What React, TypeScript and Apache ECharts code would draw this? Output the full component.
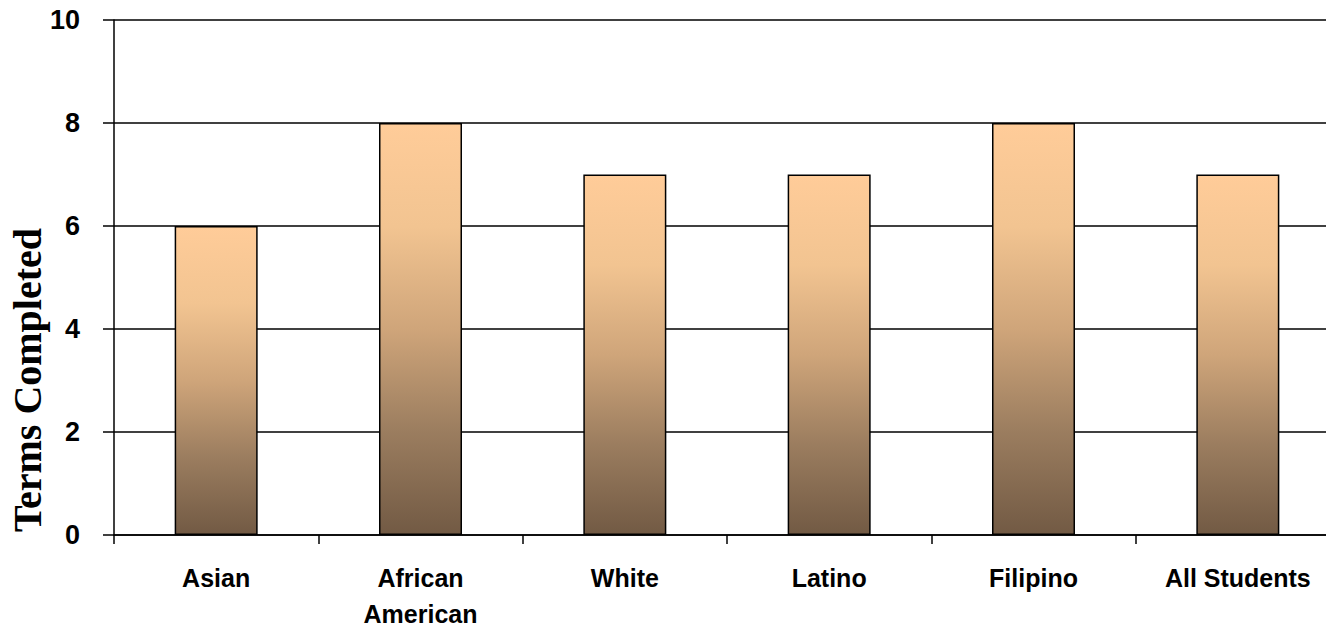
import React, { useEffect, useRef } from "react";
import * as echarts from "echarts";

const categories = ["Asian", "African\nAmerican", "White", "Latino", "Filipino", "All Students"];
const termsCompleted = [6, 8, 7, 7, 8, 7];
const yTicks = [0, 2, 4, 6, 8, 10];
const yTitle = "Terms Completed";

const sans = "'Liberation Sans Narrow', 'Arial Narrow', 'Liberation Sans', Arial, sans-serif";

export default function App() {
  const ref = useRef<HTMLDivElement>(null);
  useEffect(() => {
    if (!ref.current) return;
    const chart = echarts.init(ref.current, null, { renderer: "svg" });
    const barColor = new echarts.graphic.LinearGradient(0, 0, 0, 1, [
      { offset: 0, color: "#FFCC99" },
      { offset: 0.25, color: "#F2C491" },
      { offset: 0.5, color: "#CFA57A" },
      { offset: 0.75, color: "#9B7D5F" },
      { offset: 1, color: "#725A44" },
    ]);
    chart.setOption({
      animation: false,
      backgroundColor: "#ffffff",
      grid: { left: 114, top: 20, right: 0, bottom: 93, containLabel: false },
      xAxis: {
        type: "category",
        data: categories,
        boundaryGap: true,
        axisLine: { show: true, lineStyle: { color: "#000", width: 1.5 } },
        axisTick: { show: true, length: 9, alignWithLabel: false, lineStyle: { color: "#000", width: 1.5 } },
        axisLabel: {
          interval: 0,
          margin: 25,
          color: "#000",
          fontFamily: sans,
          fontWeight: "bold",
          fontSize: 25,
          lineHeight: 36,
        },
        splitLine: { show: false },
      },
      yAxis: {
        type: "value",
        min: yTicks[0],
        max: yTicks[yTicks.length - 1],
        interval: 2,
        axisLine: { show: true, lineStyle: { color: "#000", width: 1.5 } },
        axisTick: { show: true, length: 11, lineStyle: { color: "#000", width: 1.5 } },
        axisLabel: {
          margin: 34,
          color: "#000",
          fontFamily: sans,
          fontWeight: "bold",
          fontSize: 27,
        },
        splitLine: { show: true, lineStyle: { color: "#000", width: 1.5 } },
      },
      graphic: [
        {
          type: "text",
          x: 27,
          y: 380,
          rotation: Math.PI / 2,
          style: {
            text: yTitle,
            fill: "#000",
            font: "bold 40px 'Liberation Serif', 'Times New Roman', serif",
            textAlign: "center",
            textVerticalAlign: "middle",
          },
        },
      ],
      series: [
        {
          type: "bar",
          data: termsCompleted,
          barWidth: 83,
          itemStyle: { color: barColor, borderColor: "#000", borderWidth: 1.5 },
        },
      ],
    });
    return () => chart.dispose();
  }, []);
  return (
    <div style={{ position: "fixed", left: 0, top: 0, width: 1326, height: 632, overflow: "hidden", background: "#fff" }}>
      <div ref={ref} style={{ width: 1340, height: 632 }} />
    </div>
  );
}
